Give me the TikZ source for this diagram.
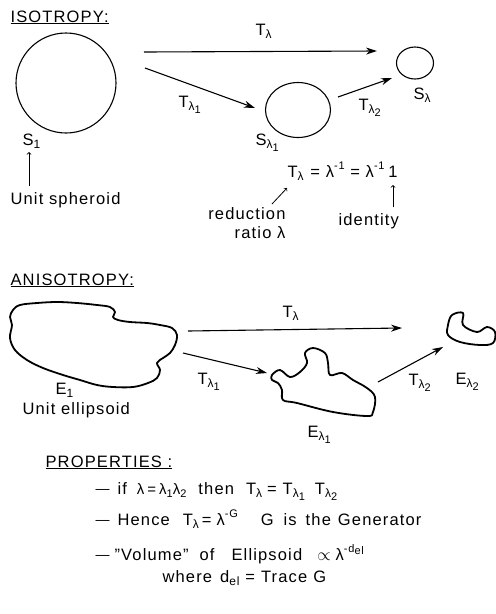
\documentclass[tikz,border=0pt]{standalone}
\usepackage{fontspec}
\setmainfont{Liberation Sans}[LetterSpace=7]
\usetikzlibrary{positioning,shapes.geometric,arrows.meta}
\newcommand{\lsub}[1]{\raisebox{-0.45ex}{\fontsize{12}{12}\selectfont #1}}
\newcommand{\lsubb}[1]{\raisebox{-0.4ex}{\fontsize{11}{11}\selectfont #1}}
\newcommand{\lsup}[1]{\raisebox{0.9ex}{\fontsize{11}{11}\selectfont #1}}
\newcommand{\gap}[1]{\hspace{#1pt}}
\newcommand{\ldash}{{\fontsize{14}{14}\selectfont\raisebox{0.3pt}{—}}}
\begin{document}
\begin{tikzpicture}[x=1pt,y=-1pt,>={Stealth[length=11pt,width=7pt]},line width=1.1pt,
  every node/.style={font=\fontsize{16.5}{19}\selectfont,inner sep=0pt},
  lbl/.style={anchor=base west},
  blob/.style={line width=1.8pt,line join=round}]
\useasboundingbox (0,0) rectangle (496,614);
% isotropy
\node[lbl] (iso) at (10,22) {\underline{ISOTROPY:}};
\node[draw,circle,minimum size=100pt] (s1) at (66,83) {};
\node[draw,ellipse,minimum width=65pt,minimum height=55pt] (sl1) at (298,110) {};
\node[draw,ellipse,minimum width=37pt,minimum height=32pt] (sl) at (415,63) {};
\node[lbl] (s1lab) at (22,145) {S\lsub{1}};
\node[lbl] (sl1lab) at (255,145) {S\lsub{λ\lsubb{1}}};
\node[lbl] (sllab) at (413,99) {S\lsub{λ}};
\node[lbl] (us) at (10,204) {Unit spheroid};
\node[lbl] (t0) at (255,35) {T\lsub{λ}};
\node[lbl] (t1) at (178,107) {T\lsub{λ\lsubb{1}}};
\node[lbl] (t2) at (358,110) {T\lsub{λ\lsubb{2}}};
\coordinate (ta) at (144,52); \coordinate (tb) at (377,51);
\coordinate (ua) at (145,68); \coordinate (ub) at (255,108);
\coordinate (va) at (338,97); \coordinate (vb) at (392,78);
\draw[->] (ta) -- (tb);
\draw[->] (ua) -- (ub);
\draw[->] (va) -- (vb);
\draw[-to,line width=0.8pt] (29,186) -- (29,152);
% formula
\node[lbl] (tl) at (287,177) {T\lsub{λ}};
\node[anchor=base west] (lam) at (tl.base east) {\ = λ\lsup{-1} = λ\lsup{-1}\,};
\node[anchor=base west] (one) at (lam.base east) {1};
\node[anchor=base east] (red) at (286,219) {reduction};
\node[anchor=base east] (rat) at (286,238) {ratio λ};
\node[lbl] (idt) at (338,225) {identity};
\draw[-to,line width=0.8pt] (272,204) -- (287,188);
\draw[-to,line width=0.8pt] (one.south |- idt.north) ++(0,-5) -- (one.south |- 0,185);
% anisotropy
\node[lbl] (aniso) at (10,285) {\underline{ANISOTROPY:}};
\draw[blob] plot[smooth cycle,tension=0.6] coordinates {(13,310) (20,305) (37,303) (57,302) (77,303) (97,305) (110,307) (115,312) (113,317) (118,320) (130,322) (147,323) (160,325) (172,328) (177,335) (175,345) (170,353) (163,358) (157,363) (160,370) (157,378) (148,383) (133,387) (113,387) (97,385) (80,380) (63,375) (43,368) (27,360) (15,350) (10,338) (12,325) (10,317)};
\draw[blob] plot[smooth cycle,tension=0.6] coordinates {(272,375) (280,370) (290,377) (300,372) (307,363) (305,353) (313,348) (325,353) (328,363) (330,375) (342,373) (353,380) (367,388) (375,397) (373,412) (367,416) (333,412) (297,403) (283,400) (282,390) (278,383) (272,380)};
\draw[blob] plot[smooth cycle,tension=0.6] coordinates {(452,315) (463,313) (463,325) (477,332) (487,327) (495,332) (493,343) (480,345) (460,342) (448,335) (448,325)};
\node[lbl] (e1) at (55,394) {E\lsub{1}};
\node[lbl] (ue) at (22,414) {Unit ellipsoid};
\node[lbl] (el1) at (307,437) {E\lsub{λ\lsubb{1}}};
\node[lbl] (el2) at (455,384) {E\lsub{λ\lsubb{2}}};
\node[lbl] (at0) at (282,317) {T\lsub{λ}};
\node[lbl] (at1) at (197,384) {T\lsub{λ\lsubb{1}}};
\node[lbl] (at2) at (408,385) {T\lsub{λ\lsubb{2}}};
\coordinate (wa) at (188,331); \coordinate (wb) at (402,328);
\coordinate (xa) at (183,353); \coordinate (xb) at (267,373);
\coordinate (ya) at (378,382); \coordinate (yb) at (443,347);
\draw[->] (wa) -- (wb);
\draw[->] (xa) -- (xb);
\draw[->] (ya) -- (yb);
% properties
\node[lbl] (prop) at (45,467) {\underline{PROPERTIES :}};
\node[lbl] (p1) at (95,494) {\ldash\gap{8}if\gap{10}{\fontsize{15}{15}\selectfont λ\gap{3}=\gap{3}λ\lsubb{1}λ\lsubb{2}}\gap{12}then\gap{12}T\lsub{λ}\gap{5}=\gap{6}T\lsub{λ\lsubb{1}}\gap{10}T\lsub{λ\lsubb{2}}};
\node[lbl] (p2) at (95,525) {\ldash\gap{8}Hence\gap{13}T\lsub{λ}\gap{3}=\gap{5}λ\lsup{-G}\gap{23}G\gap{10}is\gap{9}the\gap{7}Generator};
\node[lbl] (p3) at (95,560) {\ldash\gap{5}"Volume"\gap{11}of\gap{17}Ellipsoid\gap{15}$\propto$\gap{5}λ\lsup{-d\lsubb{el}}};
\node[lbl] (p4) at (162,582) {where\gap{8}d\lsub{el}\gap{6}=\gap{6}Trace\gap{6}G};
\end{tikzpicture}
\end{document}
